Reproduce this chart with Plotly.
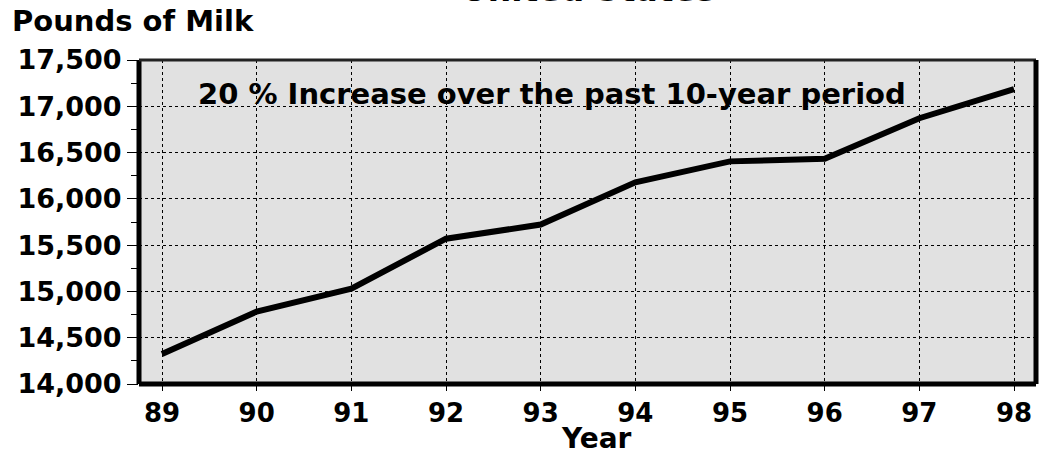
import plotly.graph_objects as go

years = [89, 90, 91, 92, 93, 94, 95, 96, 97, 98]
year_labels = ["89", "90", "91", "92", "93", "94", "95", "96", "97", "98"]
milk_per_cow = [14323, 14782, 15031, 15570, 15722, 16179, 16405, 16433, 16871, 17185]
y_ticks = [14000, 14500, 15000, 15500, 16000, 16500, 17000, 17500]
y_tick_labels = ["14,000", "14,500", "15,000", "15,500", "16,000", "16,500", "17,000", "17,500"]

FONT = "DejaVu Sans"
W, H = 1040, 451
L, R, T, B = 139, 4, 60, 67
pw, ph = W - L - R, H - T - B

def px_x(p):
    return (p - L) / pw

def px_y(p):
    return 1 + (T - p) / ph

fig = go.Figure()
fig.add_trace(go.Scatter(
    x=years, y=milk_per_cow, mode="lines",
    line=dict(color="black", width=6),
    hoverinfo="skip", showlegend=False,
))

fig.update_layout(
    width=W, height=H,
    margin=dict(l=L, r=R, t=T, b=B, pad=0, autoexpand=False),
    paper_bgcolor="white",
    plot_bgcolor="#e1e1e1",
    font=dict(family=FONT, color="black", size=26),
    xaxis=dict(
        range=[88.757, 98.232],
        tickvals=years, ticktext=year_labels,
        ticks="outside", ticklen=6, tickwidth=1, tickcolor="black",
        showgrid=True, gridcolor="black", griddash="dot", gridwidth=1,
        zeroline=False, showline=False, automargin=False,
        tickfont=dict(family=FONT, size=26, weight="bold"),
    ),
    yaxis=dict(
        range=[14000, 17500],
        tickvals=y_ticks, ticktext=y_tick_labels,
        ticks="outside", ticklen=11, tickwidth=1, tickcolor="black",
        minor=dict(dtick=250, tick0=14000, ticks="outside", ticklen=7, tickcolor="black", showgrid=False),
        showgrid=True, gridcolor="black", griddash="dot", gridwidth=1,
        zeroline=False, showline=False, automargin=False,
        tickfont=dict(family=FONT, size=27, weight="bold"),
    ),
)

# plot frame
fig.add_shape(type="line", xref="paper", yref="paper", x0=0, x1=0, y0=0, y1=1,
              line=dict(color="black", width=5))
fig.add_shape(type="line", xref="paper", yref="paper", x0=0, x1=1, y0=0, y1=0,
              line=dict(color="black", width=5))
fig.add_shape(type="line", xref="paper", yref="paper", x0=0, x1=1, y0=1, y1=1,
              line=dict(color="#222222", width=3))
fig.add_shape(type="line", xref="paper", yref="paper", x0=1, x1=1, y0=0, y1=1,
              line=dict(color="black", width=5))

fig.add_annotation(text="Pounds of Milk", xref="paper", yref="paper",
                   x=px_x(10), y=px_y(21), xanchor="left", yanchor="middle",
                   showarrow=False, font=dict(family=FONT, size=29, weight="bold"))
fig.add_annotation(text="20 % Increase over the past 10-year period", xref="paper", yref="paper",
                   x=px_x(196), y=px_y(94), xanchor="left", yanchor="middle",
                   showarrow=False, font=dict(family=FONT, size=29, weight="bold"))
fig.add_annotation(text="Year", xref="paper", yref="paper",
                   x=px_x(596), y=px_y(438), xanchor="center", yanchor="middle",
                   showarrow=False, font=dict(family=FONT, size=28, weight="bold"))
fig.add_annotation(text="United States", xref="paper", yref="paper",
                   x=px_x(588), y=px_y(11.5), xanchor="center", yanchor="bottom",
                   showarrow=False, font=dict(family=FONT, size=33, weight="bold"))

fig.write_html(
    "out.html",
    config={"displayModeBar": False},
    post_script="document.body.style.margin='0';document.body.style.overflow='hidden';",
)
